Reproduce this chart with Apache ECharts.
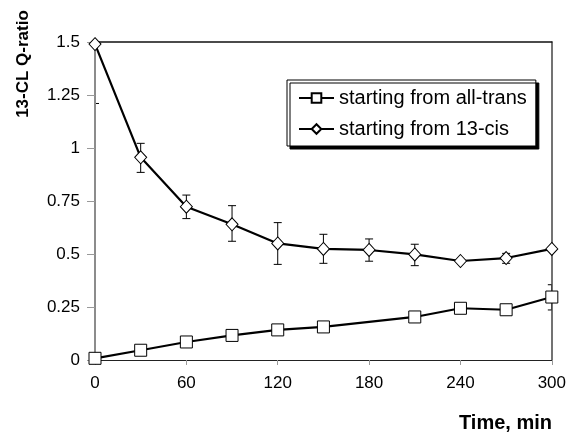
<!DOCTYPE html>
<html>
<head>
<meta charset="utf-8">
<script src="https://cdn.jsdelivr.net/npm/echarts@6/dist/echarts.min.js"></script>
<style>
html,body{margin:0;padding:0;background:#fff;}
#chart{width:569px;height:432px;}
</style>
</head>
<body>
<div id="chart"></div>
<script>
// ---- data ----
var seriesNames = ['starting from all-trans', 'starting from 13-cis'];
var transTimes = [0, 30, 60, 90, 120, 150, 210, 240, 270, 300];
var transValues = [0.008, 0.046, 0.085, 0.116, 0.142, 0.156, 0.203, 0.244, 0.237, 0.297];
var transErrTimes = [300];
var transErrLow = [0.236];
var transErrHigh = [0.355];

var cisTimes = [0, 30, 60, 90, 120, 150, 180, 210, 240, 270, 300];
var cisValues = [1.49, 0.956, 0.723, 0.640, 0.550, 0.524, 0.519, 0.498, 0.467, 0.481, 0.524];
var cisErrTimes = [0, 30, 60, 90, 120, 150, 180, 210, 270];
var cisErrLow = [1.21, 0.885, 0.667, 0.560, 0.451, 0.456, 0.466, 0.445, 0.456];
var cisErrHigh = [1.79, 1.022, 0.778, 0.728, 0.648, 0.593, 0.571, 0.546, 0.503];

var xTitle = 'Time, min';
var yTitle = '13-CL Q-ratio';

// ---- build ----
var FONT = '"Liberation Sans", Arial, sans-serif';
function pairs(xs, ys) { return xs.map(function (x, i) { return [x, ys[i]]; }); }
function triples(xs, lo, hi) { return xs.map(function (x, i) { return [x, lo[i], hi[i]]; }); }

function errRender(params, api) {
  var x = api.value(0);
  var lo = api.coord([x, api.value(1)]);
  var hi = api.coord([x, api.value(2)]);
  var w = 4;
  var st = { stroke: '#000', lineWidth: 1 };
  return {
    type: 'group',
    children: [
      { type: 'line', shape: { x1: lo[0], y1: lo[1], x2: hi[0], y2: hi[1] }, style: st },
      { type: 'line', shape: { x1: lo[0] - w, y1: lo[1], x2: lo[0] + w, y2: lo[1] }, style: st },
      { type: 'line', shape: { x1: hi[0] - w, y1: hi[1], x2: hi[0] + w, y2: hi[1] }, style: st }
    ]
  };
}

var chart = echarts.init(document.getElementById('chart'), null, { renderer: 'canvas' });
var option = {
  animation: false,
  backgroundColor: '#fff',
  textStyle: { fontFamily: FONT },
  grid: { left: 95, right: 17, top: 42, bottom: 72, containLabel: false },
  xAxis: [{
    type: 'value', min: 0, max: 300, interval: 60, z: 1,
    axisLine: { show: true, lineStyle: { color: '#222', width: 1 } },
    axisTick: { show: true, length: 5, lineStyle: { color: '#999' } },
    axisLabel: { color: '#000', fontSize: 17, margin: 15, fontFamily: FONT },
    splitLine: { show: false }
  }, {
    type: 'value', position: 'top', min: 0, max: 300, z: 1,
    axisLine: { show: true, onZero: false, lineStyle: { color: '#111', width: 1.5 } },
    axisTick: { show: false }, axisLabel: { show: false }, splitLine: { show: false }
  }],
  yAxis: [{
    type: 'value', min: 0, max: 1.5, interval: 0.25, z: 1,
    axisLine: { show: true, onZero: false, lineStyle: { color: '#8c8c8c', width: 2 } },
    axisTick: { show: true, length: 8, lineStyle: { color: '#999' } },
    axisLabel: { color: '#000', fontSize: 17, margin: 15, fontFamily: FONT },
    splitLine: { show: false }
  }, {
    type: 'value', position: 'right', min: 0, max: 1.5, z: 1,
    axisLine: { show: true, onZero: false, lineStyle: { color: '#444', width: 1.5 } },
    axisTick: { show: false }, axisLabel: { show: false }, splitLine: { show: false }
  }],
  legend: {
    orient: 'vertical', left: 287, top: 80,
    padding: [8, 9, 7, 11], itemWidth: 35, itemHeight: 12, itemGap: 11,
    backgroundColor: '#fff', borderColor: '#000', borderWidth: 1,
    shadowColor: '#000', shadowOffsetX: 3, shadowOffsetY: 3, shadowBlur: 0,
    textStyle: { fontSize: 20, color: '#000', fontFamily: FONT },
    data: seriesNames
  },
  graphic: [
    { type: 'text', x: 23, y: 64, rotation: Math.PI / 2,
      style: { text: yTitle, font: 'bold 17px ' + FONT, fill: '#000', align: 'center', verticalAlign: 'middle' } },
    { type: 'text', x: 552, y: 423,
      style: { text: xTitle, font: 'bold 20px ' + FONT, fill: '#000', align: 'right', verticalAlign: 'middle' } }
  ],
  series: [
    {
      name: seriesNames[0], type: 'line', z: 3, clip: false,
      data: pairs(transTimes, transValues),
      symbol: 'rect', symbolSize: 12, showAllSymbol: true,
      lineStyle: { color: '#000', width: 2.2 },
      itemStyle: { color: '#fff', borderColor: '#000', borderWidth: 1 }
    },
    {
      name: seriesNames[1], type: 'line', z: 3, clip: false,
      data: pairs(cisTimes, cisValues),
      symbol: 'diamond', symbolSize: [12, 13], showAllSymbol: true,
      lineStyle: { color: '#000', width: 2.2 },
      itemStyle: { color: '#fff', borderColor: '#000', borderWidth: 1 }
    },
    {
      type: 'custom', z: 0, clip: true, silent: true,
      renderItem: errRender, encode: { x: 0, y: [1, 2] },
      data: triples(transErrTimes, transErrLow, transErrHigh)
    },
    {
      type: 'custom', z: 0, clip: true, silent: true,
      renderItem: errRender, encode: { x: 0, y: [1, 2] },
      data: triples(cisErrTimes, cisErrLow, cisErrHigh)
    }
  ]
};
chart.setOption(option);
</script>
</body>
</html>
